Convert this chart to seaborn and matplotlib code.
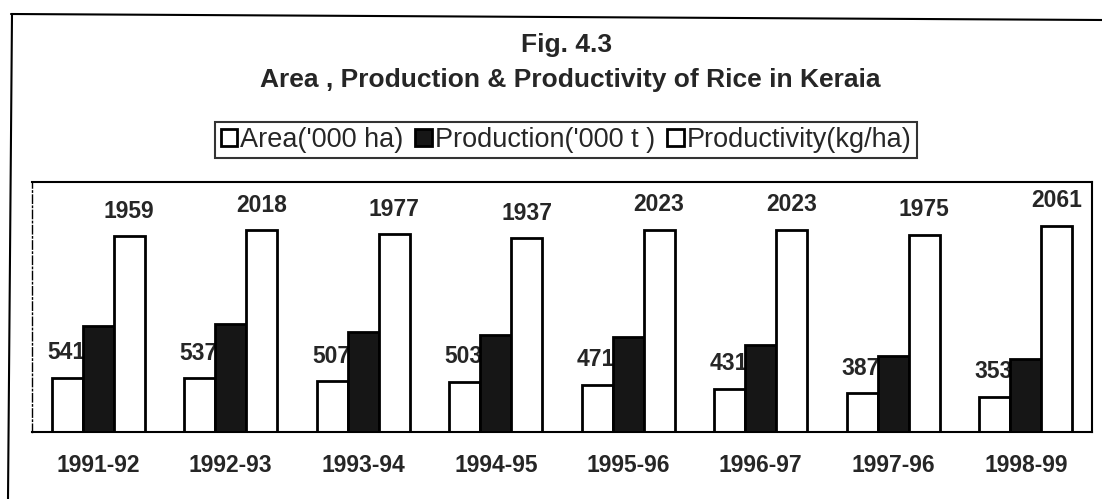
import matplotlib
matplotlib.use("Agg")
import matplotlib.pyplot as plt
from matplotlib.lines import Line2D
from matplotlib.patches import Patch
import seaborn as sns
import pandas as pd

# data
anos = ['1991-92', '1992-93', '1993-94', '1994-95',
        '1995-96', '1996-97', '1997-96', '1998-99']
area = [541, 537, 507, 503, 471, 431, 387, 353]
producao = [1060, 1084, 1002, 974, 953, 871, 764, 728]
produtividade = [1959, 2018, 1977, 1937, 2023, 2023, 1975, 2061]

series = ["Area('000 ha)", "Production('000 t )", "Productivity(kg/ha)"]

df = pd.DataFrame({
    'ano': anos * 3,
    'serie': [series[0]] * 8 + [series[1]] * 8 + [series[2]] * 8,
    'valor': area + producao + produtividade,
})

sns.set_style('white')
plt.rcParams['font.family'] = ['Liberation Sans', 'DejaVu Sans']

W, H = 1102, 499
fig = plt.figure(figsize=(W / 100, H / 100), dpi=100)
ax = fig.add_axes([32 / W, (H - 432) / H, 1060 / W, 250 / H])

cores = {series[0]: 'white', series[1]: '#161616', series[2]: 'white'}
sns.barplot(data=df, x='ano', y='valor', hue='serie', order=anos,
            hue_order=series, palette=cores, edgecolor='black',
            linewidth=2, width=0.7, gap=0, legend=False, ax=ax, zorder=2)

ax.set_xlim(-0.5, 7.5)
ax.set_ylim(0, 2500)
ax.set_xlabel('')
ax.set_ylabel('')
ax.set_yticks([])

# rótulos de valor (ficam por baixo das barras, como no original)
largura = 0.7 / 3
for i in range(8):
    ax.annotate(str(area[i]), (i - largura, area[i]), xytext=(-1, 18),
                textcoords='offset points', ha='center', va='center',
                fontsize=16.5, fontweight='bold', zorder=1)
    ax.annotate(str(produtividade[i]), (i + largura, produtividade[i]),
                xytext=(0, 18), textcoords='offset points', ha='center',
                va='center', fontsize=16.5, fontweight='bold', zorder=1)

ax.set_xticks(range(8))
ax.set_xticklabels(anos, fontsize=16.5, fontweight='bold')
ax.tick_params(axis='x', which='major', length=0, pad=16)
ax.set_xticks([i - 0.5 for i in range(9)], minor=True)
ax.tick_params(axis='x', which='minor', length=5, width=1.2,
               direction='out', color='black')

for lado in ['top', 'right', 'bottom', 'left']:
    ax.spines[lado].set_visible(True)
    ax.spines[lado].set_color('black')
    ax.spines[lado].set_linewidth(1.5)
ax.spines['left'].set_linestyle((0, (6, 2, 1, 2)))
ax.spines['left'].set_linewidth(1)

# títulos
fig.text(567 / W, 1 - 45 / H, 'Fig. 4.3', ha='center', va='center',
         fontsize=19, fontweight='bold')
fig.text(570 / W, 1 - 80 / H,
         'Area , Production & Productivity of Rice in Keraia',
         ha='center', va='center', fontsize=19, fontweight='bold')

# legenda
handles = [Patch(facecolor=cores[s], edgecolor='black', linewidth=2)
           for s in series]
leg = fig.legend(handles, series, loc='center',
                 bbox_to_anchor=(566 / W, 1 - 140 / H), ncol=3,
                 fontsize=19.5, frameon=True, fancybox=False,
                 edgecolor='black', handlelength=0.6, handleheight=0.6,
                 handletextpad=0.12, columnspacing=0.45, borderpad=0.2,
                 borderaxespad=0)
leg.get_frame().set_linewidth(1.5)

# moldura externa
fig.add_artist(Line2D([11 / W, 1.0], [1 - 14 / H, 1 - 20 / H],
                      transform=fig.transFigure, color='black', lw=1.5))
fig.add_artist(Line2D([12 / W, 8 / W], [1 - 14 / H, 0.0],
                      transform=fig.transFigure, color='black', lw=1.5))

fig.savefig('out.png', dpi=100)
